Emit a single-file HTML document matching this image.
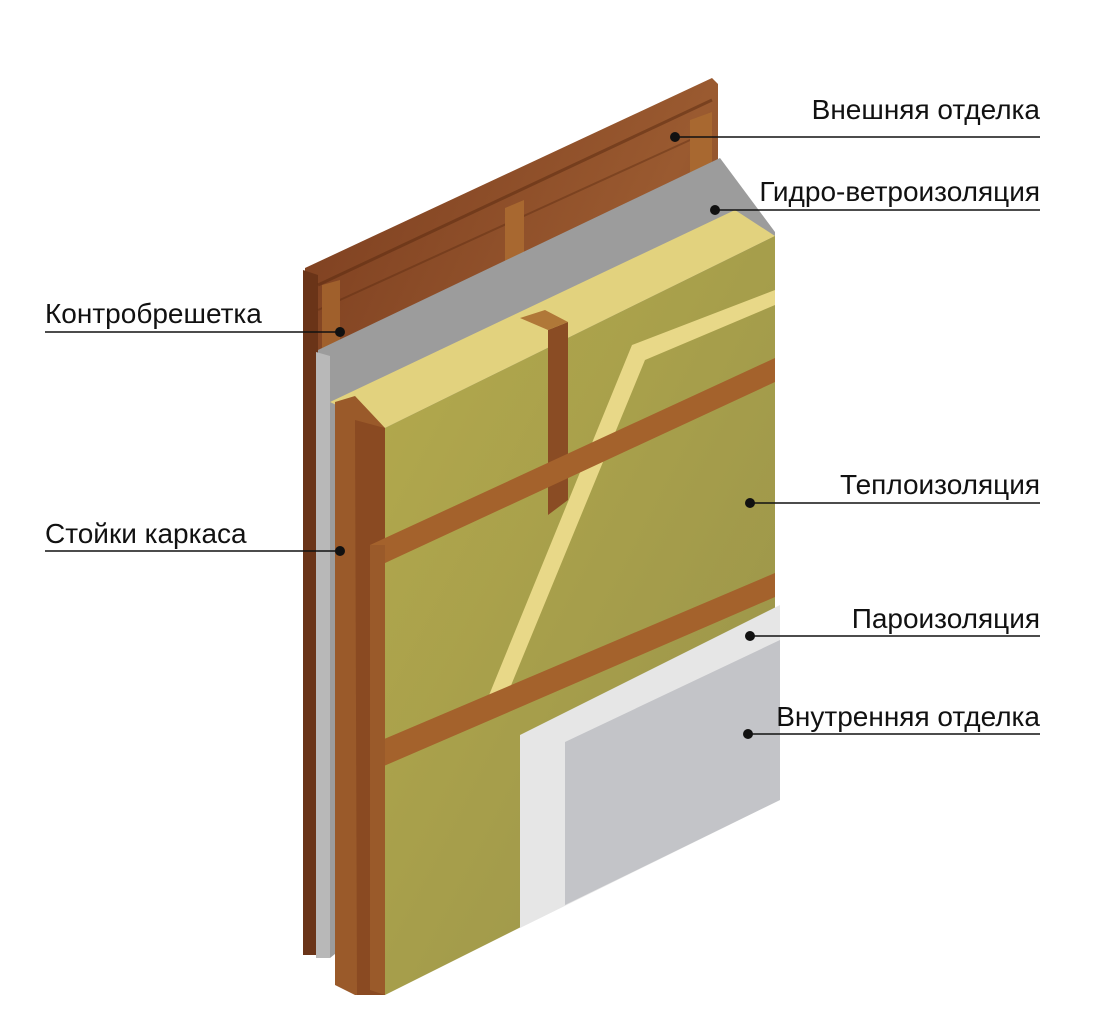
<!DOCTYPE html>
<html><head><meta charset="utf-8"><style>
html,body{margin:0;padding:0;background:#fff;}
svg{display:block}
text{font-family:"Liberation Sans",sans-serif;font-size:28px;fill:#111;}
</style></head><body>
<svg width="1107" height="1024" viewBox="0 0 1107 1024" xmlns="http://www.w3.org/2000/svg">
<defs>
<linearGradient id="wood" x1="0" y1="0" x2="1" y2="1">
<stop offset="0" stop-color="#7a3c1e"/><stop offset="0.5" stop-color="#9a5a30"/><stop offset="1" stop-color="#6e3418"/></linearGradient>
<linearGradient id="ins" x1="0" y1="0" x2="1" y2="1">
<stop offset="0" stop-color="#b4aa4c"/><stop offset="1" stop-color="#98924a"/></linearGradient>
</defs>
<polygon points="305,268 712,78 718,84 718,560 320,955 303,955" fill="url(#wood)"/>
<polygon points="303,270 318,275 318,955 303,955" fill="#6a3418"/>
<line x1="318" y1="285" x2="712" y2="100" stroke="#5a2a10" stroke-width="3" opacity=".5"/>
<line x1="318" y1="310" x2="712" y2="130" stroke="#5a2a10" stroke-width="2" opacity=".4"/>
<polygon points="322,285 340,280 340,345 322,348" fill="#a0602c"/>
<polygon points="505,208 524,200 524,262 505,270" fill="#a86830"/>
<polygon points="690,120 712,112 712,170 690,178" fill="#a86830"/>
<polygon points="318,350 720,158 775,232 775,600 330,958 318,958" fill="#9c9c9c"/>
<polygon points="316,352 330,356 330,958 316,958" fill="#b8b8b8"/>
<polygon points="330,402 735,210 775,236 385,428" fill="#e2d27e"/>
<polygon points="385,428 775,236 775,800 385,995" fill="url(#ins)"/>
<polygon points="335,402 355,396 385,428 385,995 355,995 335,985" fill="#9a5a2a"/>
<polygon points="355,420 385,428 385,995 357,995" fill="#8a4a22"/>
<polygon points="548,330 568,322 568,500 548,515" fill="#8a4c24"/>
<polygon points="520,318 548,330 568,322 545,310" fill="#b07838"/>
<polygon points="485,705 632,345 775,290 775,305 645,360 505,700" fill="#e8d888"/>
<polygon points="370,545 775,358 775,382 370,570" fill="#a4622c"/>
<polygon points="370,745 775,573 775,597 370,772" fill="#a4622c"/>
<polygon points="370,545 385,545 385,995 370,990" fill="#9a5a2a"/>
<polygon points="520,735 780,605 780,800 520,928" fill="#e6e6e6"/>
<polygon points="565,742 780,640 780,800 565,905" fill="#c3c4c8"/>
<g stroke="#111" stroke-width="1.5">
<line x1="675" y1="137" x2="1040" y2="137"/>
<line x1="715" y1="210" x2="1040" y2="210"/>
<line x1="45" y1="332" x2="340" y2="332"/>
<line x1="750" y1="503" x2="1040" y2="503"/>
<line x1="45" y1="551" x2="340" y2="551"/>
<line x1="750" y1="636" x2="1040" y2="636"/>
<line x1="748" y1="734" x2="1040" y2="734"/>
</g>
<g fill="#111">
<circle cx="675" cy="137" r="5"/><circle cx="715" cy="210" r="5"/><circle cx="340" cy="332" r="5"/>
<circle cx="750" cy="503" r="5"/><circle cx="340" cy="551" r="5"/><circle cx="750" cy="636" r="5"/><circle cx="748" cy="734" r="5"/>
</g>
<text x="1040" y="119" text-anchor="end">Внешняя отделка</text>
<text x="1040" y="201" text-anchor="end">Гидро-ветроизоляция</text>
<text x="45" y="323">Контробрешетка</text>
<text x="1040" y="494" text-anchor="end">Теплоизоляция</text>
<text x="45" y="543">Стойки каркаса</text>
<text x="1040" y="628" text-anchor="end">Пароизоляция</text>
<text x="1040" y="726" text-anchor="end">Внутренняя отделка</text>
</svg>
</body></html>
